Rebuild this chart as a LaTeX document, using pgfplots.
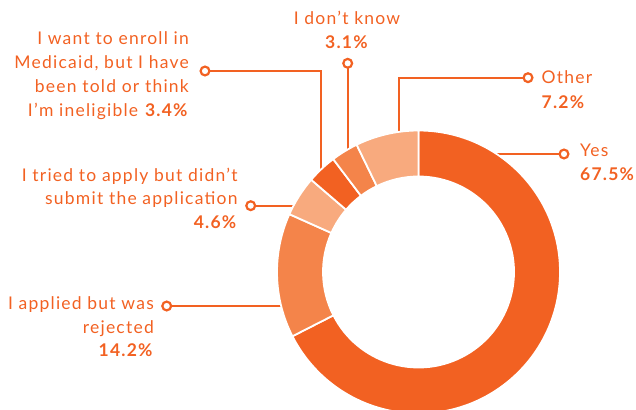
\documentclass[border=0pt]{standalone}
\usepackage{pgfplots}
\pgfplotsset{compat=1.18}
\usepackage{pgfplotstable}
\usepackage{fontspec}
\setmainfont{Lato}[LetterSpace=7]
\definecolor{cDark}{HTML}{F26122}
\definecolor{cMid}{HTML}{F4844A}
\definecolor{cLight}{HTML}{F8AA7E}
\newcommand\lbl{\fontsize{17.5pt}{24pt}\selectfont\color{cDark}}

\pgfplotstableread{
val col
67.5 cDark
14.2 cMid
4.6 cLight
3.4 cDark
3.1 cMid
7.2 cLight
}\datatable

\begin{document}
\begin{tikzpicture}
\useasboundingbox (0,0) rectangle (636pt,409pt);
\clip (0,0) rectangle (636pt,409pt);
\begin{axis}[at={(0,0)}, anchor=south west, width=636pt, height=409pt,
  scale only axis, xmin=0, xmax=636, ymin=0, ymax=409, hide axis, clip=false]
% leader lines
\addplot[cDark, line width=2pt] coordinates {(490,255) (564,255)};
\addplot[cDark, line width=2pt] coordinates {(399,269) (399,331.3) (528,331.3)};
\addplot[cDark, line width=2pt] coordinates {(347.7,254) (347.7,345.7)};
\addplot[cDark, line width=2pt] coordinates {(320.7,234) (320.7,338) (205,338)};
\addplot[cDark, line width=2pt] coordinates {(300,203.3) (250.7,203.3)};
\addplot[cDark, line width=2pt] coordinates {(290,103) (166.7,103)};
\addplot[only marks, mark=*, mark size=4.4pt,
  mark options={fill=white, draw=cDark, line width=2.2pt}]
  coordinates {(564,255) (528,331.3) (347.7,345.7) (205,338) (250.7,203.3) (166.7,103)};
% donut
\pgfplotsextra{
  \def\cum{0}
  \pgfplotsforeachungrouped \i in {0,...,5}{
    \pgfplotstablegetelem{\i}{val}\of\datatable \let\myval\pgfplotsretval
    \pgfplotstablegetelem{\i}{col}\of\datatable \let\mycol\pgfplotsretval
    \pgfmathsetmacro\angA{90-3.6*\cum}
    \pgfmathsetmacro\angB{90-3.6*(\cum+\myval)}
    \fill[fill=\mycol, draw=white, line width=1.8pt]
      (axis cs:418.5,137) ++(\angA:141.5pt)
      arc[start angle=\angA, end angle=\angB, radius=141.5pt]
      -- ++(\angB:-46pt)
      arc[start angle=\angB, end angle=\angA, radius=95.5pt] -- cycle;
    \pgfmathsetmacro\cum{\cum+\myval}
  }
}
% labels
\node[anchor=base east, inner sep=0, font=\lbl] at (axis cs:189,364) {I want to enroll in};
\node[anchor=base east, inner sep=0, font=\lbl] at (axis cs:189,340) {Medicaid, but I have};
\node[anchor=base east, inner sep=0, font=\lbl] at (axis cs:189,316.3) {been told or think};
\node[anchor=base east, inner sep=0, font=\lbl] at (axis cs:189,292.3) {I’m ineligible \textbf{3.4\%}};
\node[anchor=base east, inner sep=0, font=\lbl] at (axis cs:237.7,227.3) {I tried to apply but didn’t};
\node[anchor=base east, inner sep=0, font=\lbl] at (axis cs:237.7,204.7) {submit the application};
\node[anchor=base east, inner sep=0, font=\lbl] at (axis cs:237.7,180.7) {\textbf{4.6\%}};
\node[anchor=base east, inner sep=0, font=\lbl] at (axis cs:154,99.7) {I applied but was};
\node[anchor=base east, inner sep=0, font=\lbl] at (axis cs:154,75.7) {rejected};
\node[anchor=base east, inner sep=0, font=\lbl] at (axis cs:154,52.3) {\textbf{14.2\%}};
\node[anchor=base, inner sep=0, font=\lbl] at (axis cs:347,384) {I don’t know};
\node[anchor=base, inner sep=0, font=\lbl] at (axis cs:347,360) {\textbf{3.1\%}};
\node[anchor=base west, inner sep=0, font=\lbl] at (axis cs:541.5,325) {Other};
\node[anchor=base west, inner sep=0, font=\lbl] at (axis cs:541.5,300.7) {\textbf{7.2\%}};
\node[anchor=base west, inner sep=0, font=\lbl] at (axis cs:580,252.3) {Yes};
\node[anchor=base west, inner sep=0, font=\lbl] at (axis cs:580,228) {\textbf{67.5\%}};
\end{axis}
\end{tikzpicture}
\end{document}
